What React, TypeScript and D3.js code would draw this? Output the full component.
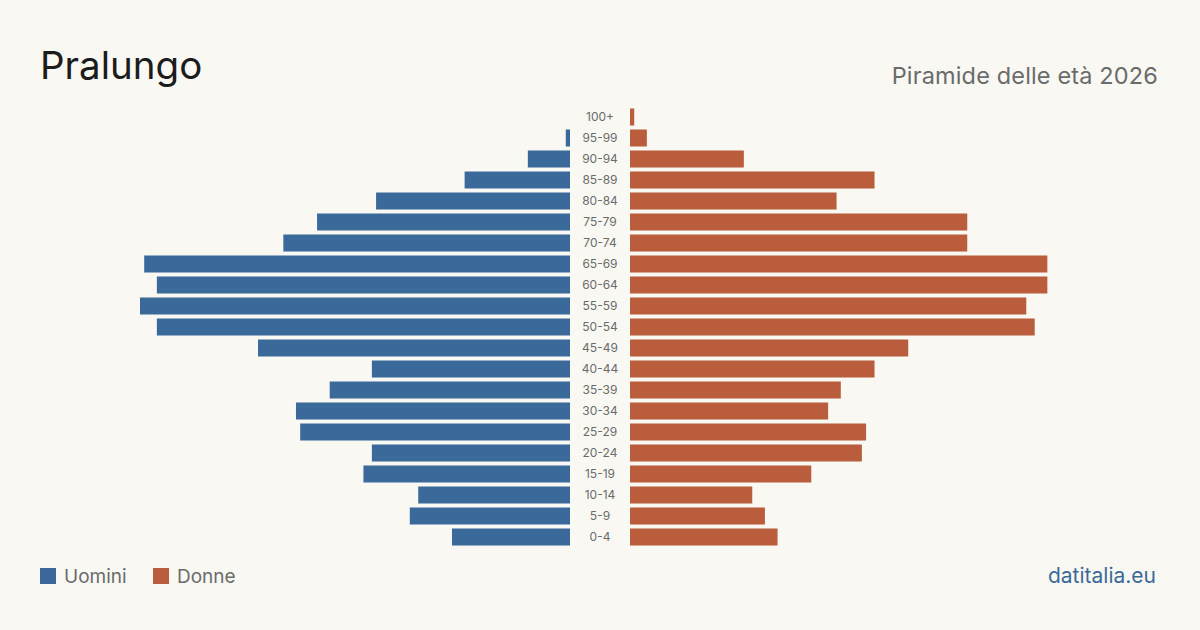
import * as d3 from 'd3'

// Age classes, top to bottom as drawn
const ageGroups = [
  '100+', '95-99', '90-94', '85-89', '80-84', '75-79', '70-74', '65-69', '60-64', '55-59',
  '50-54', '45-49', '40-44', '35-39', '30-34', '25-29', '20-24', '15-19', '10-14', '5-9', '0-4',
]
const maleValues = [0, 1, 10, 25, 46, 60, 68, 101, 98, 102, 98, 74, 47, 57, 65, 64, 47, 49, 36, 38, 28]
const femaleValues = [1, 4, 27, 58, 49, 80, 80, 99, 99, 94, 96, 66, 58, 50, 47, 56, 55, 43, 29, 32, 35]

const W = 1200
const H = 630
const FONT = 'Inter, "Noto Sans", sans-serif'
const BLUE = '#3b6a9a'
const ORANGE = '#b95d3c'

export default function App() {
  const center = 600
  const gap = 30
  const maxBar = 430

  const maxVal = d3.max([...maleValues, ...femaleValues]) as number
  const x = d3.scaleLinear().domain([0, maxVal]).range([0, maxBar])
  const y = d3.scaleBand().domain(ageGroups).range([106.5, 547.5]).paddingInner(0.19).paddingOuter(0.095)

  return (
    <svg width={W} height={H} style={{ display: 'block', position: 'absolute', left: 0, top: 0 }}>
      <rect width={W} height={H} fill="#f9f8f3" />
      <text x={40} y={79} fontFamily={FONT} fontSize={38.5} fill="#1c1c1c">Pralungo</text>
      <text x={1158} y={84} textAnchor="end" fontFamily={FONT} fontSize={23.5} letterSpacing={0.15} fill="#6b6b6b">
        Piramide delle età 2026
      </text>

      {ageGroups.map((g, i) => (
        <g key={g}>
          {maleValues[i] > 0 && (
            <rect x={center - gap - x(maleValues[i])} y={y(g)} width={x(maleValues[i])} height={y.bandwidth()} fill={BLUE} />
          )}
          {femaleValues[i] > 0 && (
            <rect x={center + gap} y={y(g)} width={x(femaleValues[i])} height={y.bandwidth()} fill={ORANGE} />
          )}
          <text x={center} y={(y(g) as number) + y.bandwidth() / 2} dy="0.35em" textAnchor="middle"
            fontFamily={FONT} fontSize={12} fill="#6b6b6b">{g}</text>
        </g>
      ))}

      <rect x={40} y={568} width={16} height={16} fill={BLUE} />
      <text x={64} y={583} fontFamily={FONT} fontSize={19} fill="#6b6b6b">Uomini</text>
      <rect x={153} y={568} width={16} height={16} fill={ORANGE} />
      <text x={177} y={583} fontFamily={FONT} fontSize={19} fill="#6b6b6b">Donne</text>

      <text x={1156} y={583} textAnchor="end" fontFamily={FONT} fontSize={21} fill={BLUE}>datitalia.eu</text>
    </svg>
  )
}
